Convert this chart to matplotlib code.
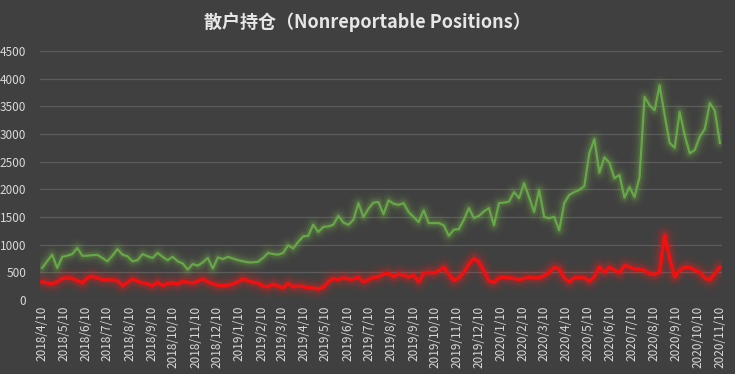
import matplotlib
matplotlib.use("Agg")
import matplotlib.pyplot as plt
import pandas as pd

plt.rcParams['font.family'] = ['Noto Sans CJK SC', 'DejaVu Sans']

# weekly report dates (Tuesdays)
dates = pd.date_range("2018-04-10", "2020-11-10", freq="7D")

large = [580, 700, 820, 580, 780, 800, 830, 940, 800, 800,
         810, 815, 760, 700, 800, 920, 820, 790, 700, 720,
         830, 790, 760, 850, 780, 720, 780, 700, 660, 550,
         650, 620, 680, 760, 570, 770, 740, 780, 750, 720,
         700, 680, 680, 690, 760, 850, 830, 820, 850, 990,
         930, 1050, 1150, 1160, 1360, 1230, 1320, 1330, 1360, 1520,
         1400, 1360, 1450, 1750, 1500, 1650, 1760, 1770, 1550, 1800,
         1740, 1720, 1750, 1590, 1500, 1410, 1620, 1390, 1390, 1390,
         1350, 1160, 1270, 1280, 1450, 1660, 1480, 1520, 1600, 1660,
         1350, 1750, 1760, 1780, 1950, 1840, 2110, 1860, 1590, 1990,
         1500, 1480, 1500, 1260, 1750, 1900, 1950, 1990, 2060, 2650,
         2910, 2300, 2580, 2480, 2200, 2260, 1850, 2040, 1860, 2220,
         3670, 3520, 3430, 3880, 3340, 2840, 2750, 3400, 2980, 2650,
         2710, 2950, 3090, 3560, 3420, 2840]

small = [330, 310, 290, 330, 390, 400, 390, 350, 310, 400,
         430, 400, 370, 360, 360, 350, 260, 320, 380, 340,
         310, 290, 260, 325, 260, 300, 310, 290, 340, 320,
         310, 340, 380, 330, 290, 270, 255, 270, 290, 330,
         380, 350, 320, 310, 250, 240, 285, 250, 220, 300,
         240, 250, 245, 220, 215, 200, 230, 330, 390, 370,
         400, 380, 380, 410, 330, 370, 410, 420, 470, 480,
         420, 470, 450, 415, 450, 330, 480, 500, 490, 530,
         590, 470, 350, 400, 500, 650, 750, 690, 520, 350,
         320, 400, 410, 400, 390, 370, 390, 410, 400, 400,
         440, 500, 590, 560, 400, 330, 400, 410, 400, 340,
         420, 600, 500, 590, 540, 490, 620, 600, 560, 560,
         530, 480, 460, 510, 1180, 750, 420, 540, 590, 590,
         540, 500, 400, 360, 480, 590]

tick_dates = pd.date_range("2018-04-01", "2020-11-01", freq="MS") + pd.Timedelta(days=9)
tick_labels = [f"{d.year}/{d.month}/{d.day}" for d in tick_dates]

bg = '#404040'
txt = '#d9d9d9'

fig = plt.figure(figsize=(7.35, 3.74), dpi=100, facecolor=bg)
ax = fig.add_axes([40 / 735, 74 / 374, 682 / 735, 249 / 374], facecolor=bg)

# soft glow under each line
for lw, a in [(14, 0.04), (10, 0.06), (7, 0.09), (4.5, 0.14)]:
    ax.plot(dates, large, color='#7fbf4d', lw=lw, alpha=a, solid_capstyle='round')
    ax.plot(dates, small, color='#ff2020', lw=lw + 2, alpha=a, solid_capstyle='round')
ax.plot(dates, large, color='#66a847', lw=1.6)
ax.plot(dates, small, color='#ee1111', lw=2.6)

ax.set_ylim(0, 4500)
ax.set_yticks(range(0, 4501, 500))
ax.set_xlim(dates[0] - pd.Timedelta(days=3), dates[-1] + pd.Timedelta(days=3))
ax.set_xticks(tick_dates)
ax.set_xticklabels(tick_labels, rotation=90)
ax.grid(axis='y', color='#5c5c5c', lw=0.9)
ax.set_axisbelow(True)
for s in ax.spines.values():
    s.set_visible(False)
ax.tick_params(axis='both', length=0, colors=txt, labelsize=8.5)
ax.tick_params(axis='y', pad=10)
ax.tick_params(axis='x', pad=4)

fig.text(0.5, 0.94, "散户持仓（Nonreportable Positions）", ha='center', va='center',
         color='#e6e6e6', fontsize=13, fontweight='bold')

fig.savefig("out.png", dpi=100, facecolor=bg)
